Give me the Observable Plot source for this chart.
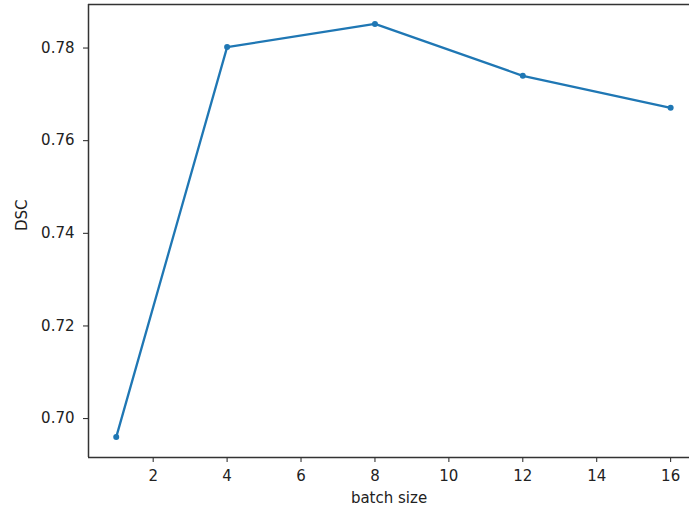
<!DOCTYPE html>
<html>
<head>
<meta charset="utf-8">
<script src="https://cdn.jsdelivr.net/npm/d3@7"></script>
<script src="https://cdn.jsdelivr.net/npm/@observablehq/plot@0.6"></script>
<style>
  html, body { margin: 0; padding: 0; background: #fff; overflow: hidden; }
</style>
</head>
<body>
<div id="chart"></div>
<script>
const batchSizes = [1, 4, 8, 12, 16];
const dscValues = [0.696, 0.7802, 0.7852, 0.774, 0.7671];
const xTicks = [2, 4, 6, 8, 10, 12, 14, 16];
const yTicks = [0.70, 0.72, 0.74, 0.76, 0.78];
const xLabel = "batch size";
const yLabel = "DSC";

const data = batchSizes.map((b, i) => ({batch: b, dsc: dscValues[i]}));
const xDomain = [0.25, 16.51];
const yDomain = [0.6916, 0.7894];

const chart = Plot.plot({
  width: 689,
  height: 512,
  marginLeft: 88,
  marginRight: 0,
  marginTop: 4,
  marginBottom: 55,
  style: {fontFamily: "DejaVu Sans", fontSize: "15px", color: "#222", background: "#fff"},
  x: {domain: xDomain, ticks: xTicks, tickSize: 5, tickPadding: 8, label: null},
  y: {domain: yDomain, ticks: yTicks, tickSize: 5, tickPadding: 9, tickFormat: d3.format(".2f"), label: null},
  marks: [
    Plot.ruleY([yDomain[1]], {stroke: "#333", strokeWidth: 1.5}),
    Plot.ruleX([xDomain[0]], {stroke: "#333", strokeWidth: 1.5}),
    Plot.ruleY([yDomain[0]], {stroke: "#333", strokeWidth: 1.5}),
    Plot.line(data, {x: "batch", y: "dsc", stroke: "#1f77b4", strokeWidth: 2.3}),
    Plot.dot(data, {x: "batch", y: "dsc", fill: "#1f77b4", r: 3}),
    Plot.text([xLabel], {frameAnchor: "bottom", dy: 41, text: d => d, lineAnchor: "middle", fill: "#222", fontSize: 15}),
    Plot.text([yLabel], {frameAnchor: "left", dx: -66, rotate: -90, text: d => d, lineAnchor: "middle", fill: "#222", fontSize: 15})
  ]
});
document.getElementById("chart").appendChild(chart);
</script>
</body>
</html>
